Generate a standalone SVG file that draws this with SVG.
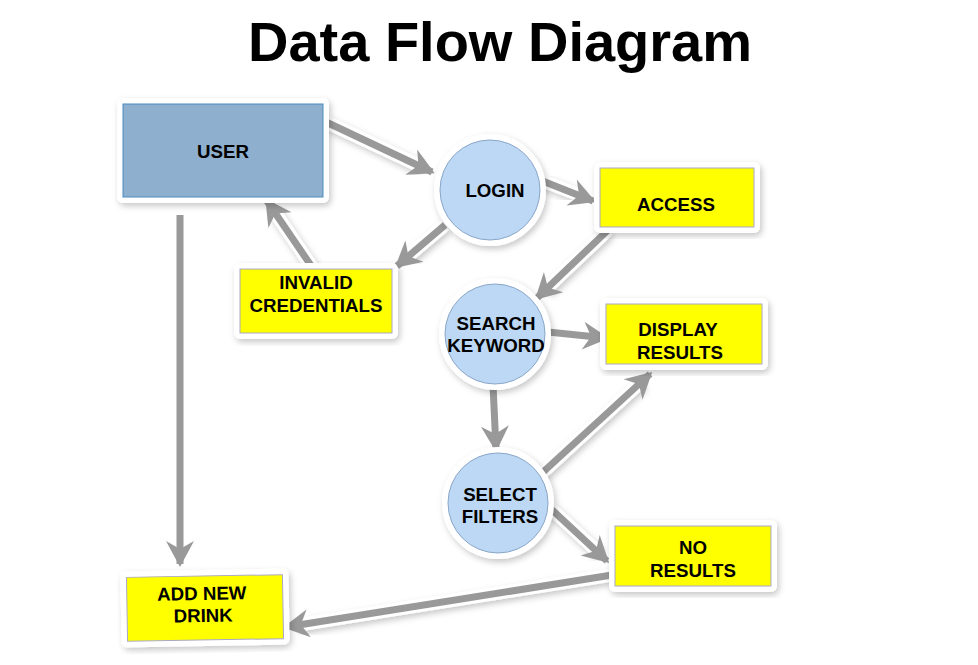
<svg xmlns="http://www.w3.org/2000/svg" width="978" height="665" viewBox="0 0 978 665">
  <style>
    .lbl { font-family: "Liberation Sans", Arial, sans-serif; font-weight: bold; font-size: 18.7px; fill: #000; text-anchor: middle; }
    .title { font-family: "Liberation Sans", Arial, sans-serif; font-weight: bold; font-size: 56px; fill: #000; text-anchor: middle; }
    .halo { fill: #fff; stroke: #fff; stroke-width: 12; stroke-linejoin: round; filter: url(#shadow); }
    .ent { fill: #8FAFCF; stroke: #4A8CC0; stroke-width: 1; }
    .proc { fill: #BCD8F4; stroke: #8AA6C8; stroke-width: 1; }
    .store { fill: #FFFF00; stroke: #A8A8C8; stroke-width: 1; }
    .flow { fill: none; stroke: #999; stroke-width: 7; marker-end: url(#head); }
    .flowhalo { fill: none; stroke: #fff; stroke-width: 13; filter: url(#shadow); }
  </style>
  <defs>
    <filter id="shadow" x="-20%" y="-20%" width="140%" height="140%">
      <feDropShadow dx="2" dy="3" stdDeviation="3" flood-color="#000" flood-opacity="0.22"/>
    </filter>
    <marker id="head" markerUnits="userSpaceOnUse" viewBox="-26 -16 30 32" refX="0" refY="0" markerWidth="30" markerHeight="32" orient="auto">
      <path d="M3,0 L-23,-14 L-15,0 L-23,14 Z" fill="#999"/>
    </marker>
  </defs>

  <rect width="978" height="665" fill="#fff"/>

  <text class="title" x="500" y="61">Data Flow Diagram</text>

  <!-- connectors: white halo underneath, grey arrow on top -->
  <g id="connectors">
    <g>
      <path class="flowhalo" d="M326,122 L420,166"/>
      <path class="flowhalo" d="M540,180 L582,196"/>
      <path class="flowhalo" d="M445,225 L407,257"/>
      <path class="flowhalo" d="M314,270 L274,211"/>
      <path class="flowhalo" d="M608,230 L546,289"/>
      <path class="flowhalo" d="M548,332 L594,337"/>
      <path class="flowhalo" d="M493,385 L495,437"/>
      <path class="flowhalo" d="M542,473 L641,382"/>
      <path class="flowhalo" d="M550,508 L598,552"/>
      <path class="flowhalo" d="M612,575 L298,625"/>
      <path class="flowhalo" d="M180,215 L180,552"/>
    </g>
    <path class="flow" d="M326,122 L432,172"/>
    <path class="flow" d="M540,180 L593,201"/>
    <path class="flow" d="M445,225 L397,266"/>
    <path class="flow" d="M314,270 L267,201"/>
    <path class="flow" d="M608,230 L537,298"/>
    <path class="flow" d="M548,332 L606,338"/>
    <path class="flow" d="M493,385 L496,449"/>
    <path class="flow" d="M542,473 L650,374"/>
    <path class="flow" d="M550,508 L607,561"/>
    <path class="flow" d="M612,575 L286,627"/>
    <path class="flow" d="M180,215 L180,564"/>
  </g>

  <g id="user">
    <rect class="halo" x="123" y="104" width="200" height="93"/>
    <rect class="ent" x="123" y="104" width="200" height="93"/>
    <text class="lbl" x="223" y="158">USER</text>
  </g>

  <g id="login">
    <circle class="halo" cx="490" cy="190" r="50"/>
    <circle class="proc" cx="490" cy="190" r="50"/>
    <text class="lbl" x="495" y="197">LOGIN</text>
  </g>

  <g id="access">
    <rect class="halo" x="600" y="168" width="154" height="59"/>
    <rect class="store" x="600" y="168" width="154" height="59"/>
    <text class="lbl" x="676" y="211">ACCESS</text>
  </g>

  <g id="invalid-credentials">
    <rect class="halo" x="240" y="269" width="152" height="64"/>
    <rect class="store" x="240" y="269" width="152" height="64"/>
    <text class="lbl" x="316" y="289">INVALID</text>
    <text class="lbl" x="316" y="312">CREDENTIALS</text>
  </g>

  <g id="search-keyword">
    <circle class="halo" cx="495" cy="334" r="50"/>
    <circle class="proc" cx="495" cy="334" r="50"/>
    <text class="lbl" x="496" y="330">SEARCH</text>
    <text class="lbl" x="496" y="352">KEYWORD</text>
  </g>

  <g id="display-results">
    <rect class="halo" x="606" y="304" width="156" height="60"/>
    <rect class="store" x="606" y="304" width="156" height="60"/>
    <text class="lbl" x="678" y="336">DISPLAY</text>
    <text class="lbl" x="680" y="359">RESULTS</text>
  </g>

  <g id="select-filters">
    <circle class="halo" cx="498" cy="503" r="50"/>
    <circle class="proc" cx="498" cy="503" r="50"/>
    <text class="lbl" x="500" y="501">SELECT</text>
    <text class="lbl" x="500" y="523">FILTERS</text>
  </g>

  <g id="no-results">
    <rect class="halo" x="615" y="526" width="156" height="60"/>
    <rect class="store" x="615" y="526" width="156" height="60"/>
    <text class="lbl" x="693" y="554">NO</text>
    <text class="lbl" x="693" y="577">RESULTS</text>
  </g>

  <g id="add-new-drink" transform="rotate(-1 205 608)">
    <rect class="halo" x="127" y="576" width="156" height="64"/>
    <rect class="store" x="127" y="576" width="156" height="64"/>
    <text class="lbl" x="202" y="600">ADD NEW</text>
    <text class="lbl" x="203" y="622">DRINK</text>
  </g>
</svg>
